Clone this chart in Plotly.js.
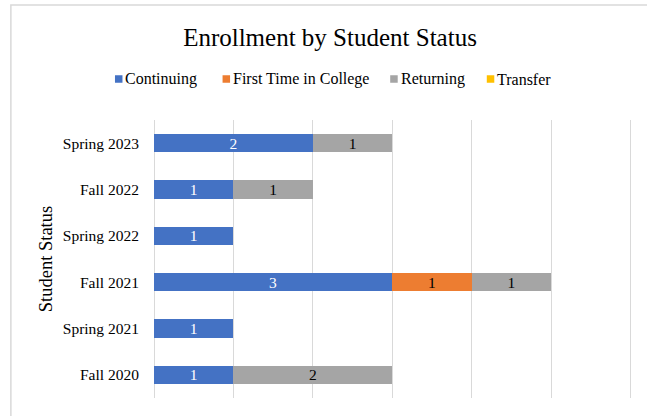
<!DOCTYPE html>
<html>
<head>
<meta charset="utf-8">
<script src="https://cdn.plot.ly/plotly-3.0.1.min.js"></script>
<style>html,body{margin:0;padding:0;background:#fff;}#chart{width:647px;height:416px;}</style>
</head>
<body>
<div id="chart"></div>
<script>
const terms = ["Fall 2020", "Spring 2021", "Fall 2021", "Spring 2022", "Fall 2022", "Spring 2023"];
const continuing = [1, 1, 3, 1, 1, 2];
const firstTime = [null, null, 1, null, null, null];
const returning = [2, null, 1, null, 1, 1];
const transfer = [null, null, null, null, null, null];

const seriesNames = ["Continuing", "First Time in College", "Returning", "Transfer"];
const seriesColors = ["#4472C4", "#ED7D31", "#A5A5A5", "#FFC000"];
const labelColors = ["#ffffff", "#000000", "#000000", "#000000"];
const seriesValues = [continuing, firstTime, returning, transfer];

const FONT = "'Liberation Serif', 'Times New Roman', Times, serif";

const traces = seriesValues.map((vals, i) => ({
  type: "bar",
  orientation: "h",
  name: seriesNames[i],
  y: terms,
  x: vals,
  showlegend: false,
  marker: {color: seriesColors[i], line: {width: 0}},
  text: vals.map(v => v == null ? "" : String(v)),
  textposition: "inside",
  insidetextanchor: "middle",
  textangle: 0,
  textfont: {family: FONT, size: 15.5, color: labelColors[i]},
  constraintext: "none",
  hoverinfo: "x+y+name"
}));

// plot area in pixels (range slightly past 6 so the last gridline shows)
const XMAX = 6.02;
const PL = 154, PR = 154 + 476 * XMAX / 6, PT = 120, PB = 398;
const px2x = px => (px - PL) / (PR - PL);
const py2y = py => (PB - py) / (PB - PT);

// manual legend (one row, like the original)
const legendX = [115, 222.5, 390, 486.5];
const legendY = 79;
const sq = 7.5;
const legendShapes = seriesNames.map((n, i) => ({
  type: "rect", xref: "paper", yref: "paper",
  x0: px2x(legendX[i]), x1: px2x(legendX[i] + sq),
  y0: py2y(legendY + sq / 2), y1: py2y(legendY - sq / 2),
  fillcolor: seriesColors[i], line: {width: 0}
}));
const legendAnn = seriesNames.map((n, i) => ({
  xref: "paper", yref: "paper",
  x: px2x(legendX[i] + sq + 1), y: py2y(legendY),
  xanchor: "left", yanchor: "middle",
  text: n, showarrow: false,
  font: {family: FONT, size: 16, color: "#000000"}
}));

const layout = {
  width: 647,
  height: 416,
  margin: {l: PL, r: 647 - PR, t: PT, b: 416 - PB},
  paper_bgcolor: "#ffffff",
  plot_bgcolor: "#ffffff",
  barmode: "stack",
  bargap: 0.6,
  font: {family: FONT, size: 15, color: "#000000"},
  title: {
    text: "Enrollment by Student Status",
    font: {family: FONT, size: 25, color: "#000000"},
    x: 330 / 647, xanchor: "center", xref: "container",
    y: 1 - 37 / 416, yanchor: "middle", yref: "container"
  },
  showlegend: false,
  xaxis: {
    range: [0, XMAX],
    dtick: 1,
    tick0: 0,
    showticklabels: false,
    showgrid: true,
    gridcolor: "#d9d9d9",
    gridwidth: 1,
    zeroline: true,
    zerolinecolor: "#d9d9d9",
    zerolinewidth: 1,
    showline: false,
    fixedrange: true
  },
  yaxis: {
    type: "category",
    categoryorder: "array",
    categoryarray: terms,
    ticks: "",
    ticklabelstandoff: 14,
    showgrid: false,
    zeroline: false,
    showline: false,
    tickfont: {family: FONT, size: 15.5, color: "#000000"},
    title: {text: "Student Status", font: {family: FONT, size: 18.5, color: "#000000"}, standoff: 5},
    fixedrange: true
  },
  annotations: legendAnn,
  shapes: [{
    type: "rect", xref: "paper", yref: "paper",
    x0: px2x(11), x1: 1.2,
    y0: -0.2, y1: py2y(5),
    line: {color: "#d9d9d9", width: 1.5},
    fillcolor: "rgba(0,0,0,0)",
    layer: "below"
  }].concat(legendShapes)
};

Plotly.newPlot("chart", traces, layout, {displayModeBar: false, staticPlot: true});
</script>
</body>
</html>
